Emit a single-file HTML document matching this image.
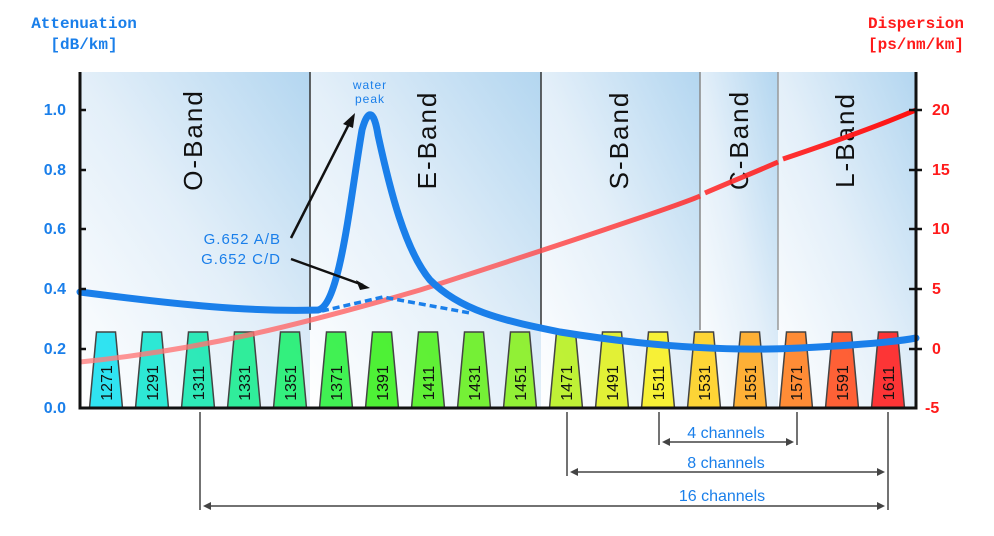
<!DOCTYPE html>
<html><head><meta charset="utf-8"><style>
body{margin:0;background:#fff}
svg text{font-family:"Liberation Sans",sans-serif}
.m{font-family:"Liberation Mono",monospace!important;font-weight:bold;font-size:16px}
.band{font-size:26px;letter-spacing:2px;fill:#111}
.ch path{stroke:#444;stroke-width:1.5;fill-opacity:0.9}
.ch text{font-size:16px;fill:#111;text-anchor:middle}
</style></head><body>
<svg width="994" height="531" viewBox="0 0 994 531" xmlns="http://www.w3.org/2000/svg">
<defs>
<linearGradient id="bg" x1="0" y1="1" x2="1" y2="0">
<stop offset="0" stop-color="#ffffff"/><stop offset="0.5" stop-color="#e3eff9"/><stop offset="1" stop-color="#b3d6f0"/></linearGradient>
<linearGradient id="red" x1="80" y1="0" x2="916" y2="0" gradientUnits="userSpaceOnUse">
<stop offset="0" stop-color="#ff8080" stop-opacity="0.8"/><stop offset="0.5" stop-color="#ff5050" stop-opacity="0.8"/><stop offset="1" stop-color="#ff1010"/></linearGradient>
</defs>
<rect x="80" y="72" width="230" height="336" fill="url(#bg)"/>
<rect x="310" y="72" width="231" height="336" fill="url(#bg)"/>
<rect x="541" y="72" width="159" height="336" fill="url(#bg)"/>
<rect x="700" y="72" width="78" height="336" fill="url(#bg)"/>
<rect x="778" y="72" width="138" height="336" fill="url(#bg)"/>
<g stroke="#333" stroke-width="1.5"><line x1="310" y1="72" x2="310" y2="330"/><line x1="541" y1="72" x2="541" y2="330"/><line x1="700" y1="72" x2="700" y2="330" stroke="#888"/><line x1="778" y1="72" x2="778" y2="330" stroke="#999"/></g>
<g class="band" text-anchor="middle">
<text transform="translate(202,140) rotate(-90)">O-Band</text>
<text transform="translate(436,140) rotate(-90)">E-Band</text>
<text transform="translate(628,140) rotate(-90)">S-Band</text>
<text transform="translate(748,140) rotate(-90)">C-Band</text>
<text transform="translate(854,140) rotate(-90)">L-Band</text>
</g>
<g class="ch">
<g transform="translate(106,0)"><path d="M-9.5,332 H9.5 L16.5,408 H-16.5Z" fill="#19e0f0"/><text transform="translate(6,383) rotate(-90)">1271</text></g>
<g transform="translate(152,0)"><path d="M-9.5,332 H9.5 L16.5,408 H-16.5Z" fill="#17e6d0"/><text transform="translate(6,383) rotate(-90)">1291</text></g>
<g transform="translate(198,0)"><path d="M-9.5,332 H9.5 L16.5,408 H-16.5Z" fill="#18e8b0"/><text transform="translate(6,383) rotate(-90)">1311</text></g>
<g transform="translate(244,0)"><path d="M-9.5,332 H9.5 L16.5,408 H-16.5Z" fill="#1cec90"/><text transform="translate(6,383) rotate(-90)">1331</text></g>
<g transform="translate(290,0)"><path d="M-9.5,332 H9.5 L16.5,408 H-16.5Z" fill="#20f070"/><text transform="translate(6,383) rotate(-90)">1351</text></g>
<g transform="translate(336,0)"><path d="M-9.5,332 H9.5 L16.5,408 H-16.5Z" fill="#2cf040"/><text transform="translate(6,383) rotate(-90)">1371</text></g>
<g transform="translate(382,0)"><path d="M-9.5,332 H9.5 L16.5,408 H-16.5Z" fill="#3cf020"/><text transform="translate(6,383) rotate(-90)">1391</text></g>
<g transform="translate(428,0)"><path d="M-9.5,332 H9.5 L16.5,408 H-16.5Z" fill="#50f020"/><text transform="translate(6,383) rotate(-90)">1411</text></g>
<g transform="translate(474,0)"><path d="M-9.5,332 H9.5 L16.5,408 H-16.5Z" fill="#68f020"/><text transform="translate(6,383) rotate(-90)">1431</text></g>
<g transform="translate(520,0)"><path d="M-9.5,332 H9.5 L16.5,408 H-16.5Z" fill="#88f020"/><text transform="translate(6,383) rotate(-90)">1451</text></g>
<g transform="translate(566,0)"><path d="M-9.5,332 H9.5 L16.5,408 H-16.5Z" fill="#b8f020"/><text transform="translate(6,383) rotate(-90)">1471</text></g>
<g transform="translate(612,0)"><path d="M-9.5,332 H9.5 L16.5,408 H-16.5Z" fill="#e0f020"/><text transform="translate(6,383) rotate(-90)">1491</text></g>
<g transform="translate(658,0)"><path d="M-9.5,332 H9.5 L16.5,408 H-16.5Z" fill="#f8f020"/><text transform="translate(6,383) rotate(-90)">1511</text></g>
<g transform="translate(704,0)"><path d="M-9.5,332 H9.5 L16.5,408 H-16.5Z" fill="#ffd020"/><text transform="translate(6,383) rotate(-90)">1531</text></g>
<g transform="translate(750,0)"><path d="M-9.5,332 H9.5 L16.5,408 H-16.5Z" fill="#ffa820"/><text transform="translate(6,383) rotate(-90)">1551</text></g>
<g transform="translate(796,0)"><path d="M-9.5,332 H9.5 L16.5,408 H-16.5Z" fill="#ff8020"/><text transform="translate(6,383) rotate(-90)">1571</text></g>
<g transform="translate(842,0)"><path d="M-9.5,332 H9.5 L16.5,408 H-16.5Z" fill="#ff5020"/><text transform="translate(6,383) rotate(-90)">1591</text></g>
<g transform="translate(888,0)"><path d="M-9.5,332 H9.5 L16.5,408 H-16.5Z" fill="#ff2020"/><text transform="translate(6,383) rotate(-90)">1611</text></g>
</g>
<path d="M80,362 C200,350 300,325 420,290 C560,245 680,205 700,196 M705,193 C740,178 760,170 778,162 M783,159 C840,140 880,125 916,110" fill="none" stroke="url(#red)" stroke-width="5"/>
<path d="M80,292 C180,305 250,312 318,310 C340,305 350,200 362,130 C368,108 374,110 378,135 C390,190 405,250 430,280 C460,310 500,320 560,332 C640,345 720,352 800,348 C860,345 895,342 916,338" fill="none" stroke="#1a7fea" stroke-width="7" stroke-linecap="round"/>
<path d="M322,311 L383,297 L470,313" fill="none" stroke="#1a7fea" stroke-width="3.5" stroke-dasharray="7,4"/>
<text x="370" y="89" font-size="12" fill="#1a7fea" text-anchor="middle" letter-spacing="1">water</text>
<text x="370" y="103" font-size="12" fill="#1a7fea" text-anchor="middle" letter-spacing="1">peak</text>
<text x="281" y="244" font-size="15" fill="#1a7fea" text-anchor="end" letter-spacing="1">G.652 A/B</text>
<text x="281" y="264" font-size="15" fill="#1a7fea" text-anchor="end" letter-spacing="1">G.652 C/D</text>
<g stroke="#111" stroke-width="2.5"><line x1="291" y1="238" x2="350" y2="122"/><line x1="291" y1="259" x2="363" y2="285"/></g>
<path d="M355,113 L343,124 L353,128Z M370,288 L356,280 L360,290Z" fill="#111"/>
<g stroke="#111" stroke-width="3" fill="none"><path d="M80,72 V408 H916 V72"/></g>
<g stroke="#111" stroke-width="2.5">
<line x1="80" y1="110" x2="86" y2="110"/><line x1="80" y1="170" x2="86" y2="170"/><line x1="80" y1="229" x2="86" y2="229"/><line x1="80" y1="289" x2="86" y2="289"/><line x1="80" y1="349" x2="86" y2="349"/>
<line x1="909" y1="110" x2="922" y2="110"/><line x1="909" y1="170" x2="922" y2="170"/><line x1="909" y1="229" x2="922" y2="229"/><line x1="909" y1="289" x2="922" y2="289"/><line x1="909" y1="349" x2="922" y2="349"/>
</g>
<g class="m" fill="#1a7fea" text-anchor="end">
<text x="66" y="115">1.0</text><text x="66" y="175">0.8</text><text x="66" y="234">0.6</text><text x="66" y="294">0.4</text><text x="66" y="354">0.2</text><text x="66" y="413">0.0</text>
</g>
<g class="m" fill="#ff1a1a">
<text x="932" y="115">20</text><text x="932" y="175">15</text><text x="932" y="234">10</text><text x="932" y="294">5</text><text x="932" y="354">0</text><text x="925" y="413">-5</text>
</g>
<text class="m" x="84" y="28" fill="#1a7fea" text-anchor="middle">Attenuation</text>
<text class="m" x="84" y="49" fill="#1a7fea" text-anchor="middle">[dB/km]</text>
<text class="m" x="916" y="28" fill="#ff1a1a" text-anchor="middle">Dispersion</text>
<text class="m" x="916" y="49" fill="#ff1a1a" text-anchor="middle">[ps/nm/km]</text>
<g stroke="#444" stroke-width="1.5">
<line x1="200" y1="412" x2="200" y2="510"/><line x1="567" y1="412" x2="567" y2="476"/><line x1="659" y1="412" x2="659" y2="445"/><line x1="797" y1="412" x2="797" y2="445"/><line x1="888" y1="412" x2="888" y2="510"/>
<line x1="664" y1="442" x2="792" y2="442"/><line x1="572" y1="472" x2="883" y2="472"/><line x1="205" y1="506" x2="883" y2="506"/>
</g>
<g fill="#444"><path d="M662,442 l8,-4 v8Z M794,442 l-8,-4 v8Z M570,472 l8,-4 v8Z M885,472 l-8,-4 v8Z M203,506 l8,-4 v8Z M885,506 l-8,-4 v8Z"/></g>
<g font-size="16" fill="#1a7fea" text-anchor="middle">
<text x="726" y="438">4 channels</text><text x="726" y="468">8 channels</text><text x="722" y="501">16 channels</text>
</g>
</svg>
</body></html>
